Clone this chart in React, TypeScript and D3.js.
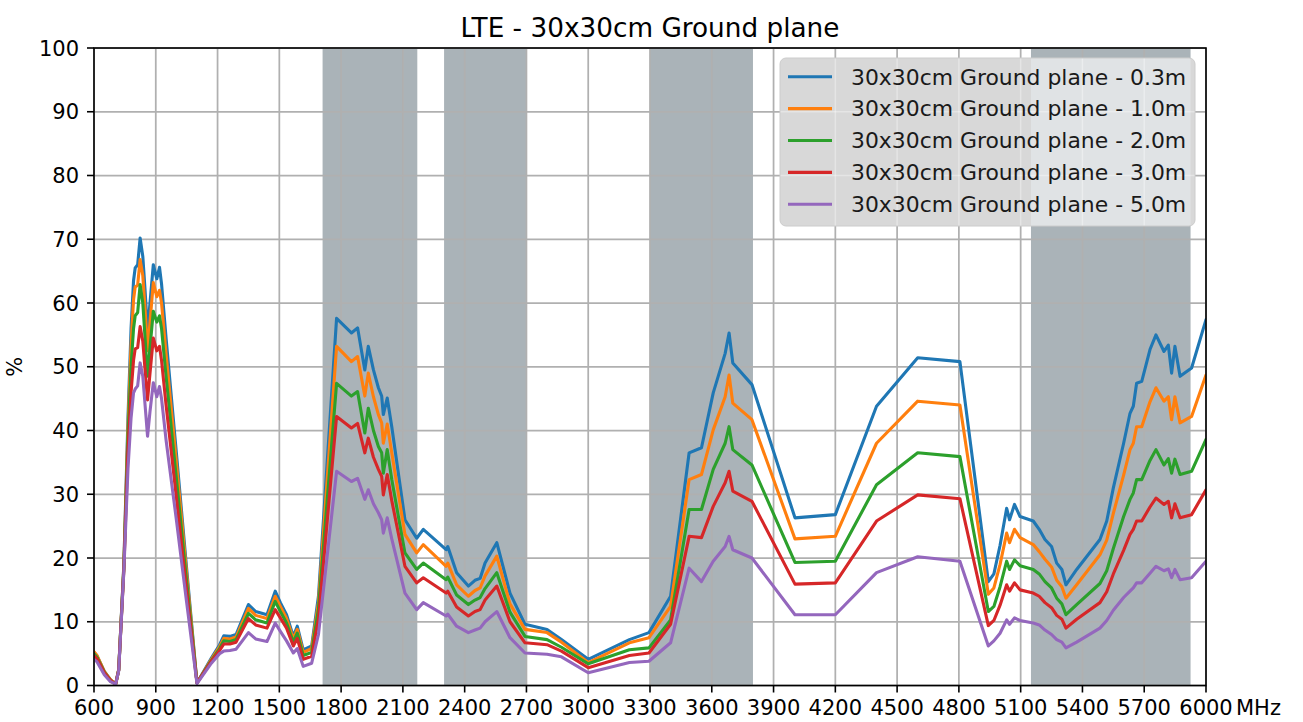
import React from 'react';
import * as d3 from 'd3';

// Frequencies (MHz) shared by all series
const freqs = [
  600, 615, 650, 680, 705, 720, 745, 765, 780, 792, 800, 812, 824, 837, 848, 860, 872, 888, 905, 918, 928, 950, 1000, 1050, 1100,
  1170, 1210, 1230, 1260, 1290, 1350, 1385, 1440, 1480, 1505, 1535, 1568, 1587, 1616, 1657, 1690,
  1778, 1850, 1880, 1915, 1932, 1957, 1981, 1997, 2005, 2024, 2046, 2110, 2167, 2199, 2310, 2318, 2361, 2418, 2450, 2475, 2499, 2556, 2620, 2693,
  2800, 2870, 3000, 3200, 3295, 3400, 3490, 3550, 3607, 3665, 3684, 3702, 3795, 4004,
  4200, 4400, 4600, 4805, 4943, 4970, 5000, 5032, 5046, 5070, 5097, 5161, 5190, 5218, 5250, 5275, 5300, 5320, 5372, 5485, 5518, 5550, 5600, 5631, 5647, 5663, 5688, 5728, 5757, 5796, 5817, 5833, 5849, 5874, 5930, 6000,
];

const gp03 = [
  5.2, 4.6, 2.2, 0.9, 0.2, 2.5, 19, 42, 56, 63.5, 65.5, 66, 70.2, 67.3, 62, 55.5, 60, 66, 63.8, 65.6, 63, 54.5, 36.5, 18.3, 0.4,
  4.3, 6.4, 7.8, 7.7, 8.0, 12.7, 11.6, 11.1, 14.8, 13.0, 11.1, 7.7, 9.3, 5.6, 6.2, 14,
  57.6, 55.3, 56.1, 49.5, 53.2, 49.5, 46.7, 45.4, 42.5, 45.1, 40.6, 26.0, 23.1, 24.5, 21.3, 21.8, 17.7, 15.6, 16.5, 16.8, 19.2, 22.4, 14.5, 9.6,
  8.8, 7.2, 4.1, 7.2, 8.3, 14.0, 36.5, 37.3, 45.9, 52.1, 55.3, 50.6, 47.2, 26.3,
  26.8, 43.8, 51.4, 50.8, 16.3, 17.5, 22.0, 27.8, 26.0, 28.4, 26.5, 25.8, 24.5, 22.9, 21.8, 19.2, 18.2, 15.8, 18.2, 22.9, 25.8, 31.0, 38.0, 42.7, 43.8, 47.4, 47.7, 52.7, 55.0, 52.4, 53.4, 49.0, 53.2, 48.5, 49.8, 57.4,
];

const gp10 = [
  5.3, 4.7, 2.2, 0.9, 0.2, 2.5, 18.8, 40.5, 53.5, 60.5, 62.5, 62.8, 66.8, 64.3, 59, 52.5, 57, 63.2, 61, 62, 60, 52, 35, 17.5, 0.4,
  4.1, 6.1, 7.4, 7.3, 7.6, 12.1, 11.0, 10.5, 14.0, 12.4, 10.5, 7.3, 8.8, 5.2, 5.8, 13,
  53.2, 50.8, 51.6, 45.4, 49.0, 45.3, 42.5, 41.2, 38.0, 41.0, 36.5, 23.7, 20.8, 22.1, 18.7, 19.2, 15.8, 14.0, 14.9, 15.3, 17.2, 20.3, 12.8, 8.8,
  8.3, 6.8, 3.6, 6.7, 7.5, 12.4, 32.3, 33.1, 40.1, 45.3, 48.7, 44.3, 41.7, 23.0,
  23.4, 38.0, 44.6, 44.0, 14.3, 15.3, 19.0, 23.9, 22.4, 24.5, 23.2, 22.1, 21.0, 19.8, 18.6, 16.5, 15.5, 13.7, 15.8, 20.5, 22.8, 27.0, 33.0, 37.0, 38.0, 40.6, 40.6, 44.5, 46.7, 44.6, 45.3, 41.7, 45.3, 41.2, 42.2, 48.7,
];

const gp20 = [
  5.0, 4.4, 2.1, 0.8, 0.2, 2.4, 18.5, 39, 50, 56, 58, 58.5, 62.9, 60, 54.5, 48.5, 53, 58.7, 57, 58, 56, 48.5, 32.5, 16.3, 0.4,
  3.9, 5.8, 7.0, 6.9, 7.2, 11.3, 10.3, 9.8, 13.2, 11.6, 9.8, 6.8, 8.2, 4.7, 5.2, 12,
  47.4, 45.4, 46.1, 39.6, 43.5, 40.0, 37.5, 36.5, 33.3, 37.0, 32.3, 20.8, 18.2, 19.2, 16.6, 17.0, 14.2, 12.7, 13.4, 13.8, 15.2, 17.7, 11.5, 7.7,
  7.2, 6.0, 3.4, 5.6, 5.9, 10.3, 27.6, 27.6, 33.9, 38.0, 40.6, 37.0, 34.6, 19.3,
  19.5, 31.5, 36.5, 35.9, 11.6, 12.4, 15.5, 19.5, 18.2, 19.7, 18.8, 18.2, 17.5, 16.3, 15.3, 13.7, 12.8, 11.1, 12.7, 16.0, 18.0, 21.5, 26.5, 29.2, 30.2, 32.3, 32.3, 35.3, 37.0, 34.6, 35.6, 33.3, 35.5, 33.1, 33.6, 38.6,
];

const gp30 = [
  4.7, 4.2, 2.0, 0.8, 0.2, 2.4, 18.2, 37, 46, 51, 52.8, 53, 56.3, 54, 49.5, 44.8, 49, 54.5, 52.5, 53.2, 51, 44, 29.5, 14.8, 0.4,
  3.8, 5.5, 6.5, 6.5, 6.8, 10.5, 9.5, 9.0, 11.9, 10.6, 9.0, 6.2, 7.4, 4.1, 4.6, 10.5,
  42.2, 40.4, 41.1, 36.5, 38.8, 35.8, 33.9, 32.8, 29.9, 33.1, 29.0, 18.7, 16.1, 16.9, 14.5, 14.8, 12.3, 10.9, 11.6, 11.9, 13.4, 15.6, 10.0, 6.7,
  6.4, 5.4, 2.8, 4.7, 5.1, 9.6, 23.4, 23.2, 28.1, 31.8, 33.6, 30.5, 28.9, 15.9,
  16.1, 25.8, 29.9, 29.3, 9.4, 10.2, 12.6, 15.8, 14.8, 16.1, 15.0, 14.5, 14.0, 13.0, 12.2, 11.0, 10.4, 9.0, 10.4, 13.0, 14.7, 17.5, 21.2, 23.7, 24.5, 25.8, 25.8, 28.0, 29.4, 28.4, 28.9, 26.3, 28.5, 26.3, 26.8, 30.7,
];

const gp50 = [
  4.1, 3.7, 1.7, 0.6, 0.2, 2.3, 18, 34, 42, 45.9, 46.5, 47, 50.6, 48.5, 44, 39.1, 43, 47.5, 45.3, 46.9, 45, 38.5, 26, 13, 0.3,
  3.5, 5.0, 5.4, 5.5, 5.7, 8.3, 7.3, 6.9, 9.8, 8.5, 7.0, 5.1, 5.8, 3.0, 3.5, 8,
  33.6, 32.0, 32.5, 29.2, 30.7, 28.5, 27.1, 26.0, 23.9, 26.3, 23.0, 14.5, 11.9, 13.0, 10.9, 11.2, 9.3, 8.3, 8.7, 9.0, 10.0, 11.6, 7.5, 5.1,
  4.9, 4.5, 2.0, 3.6, 3.8, 6.7, 18.4, 16.3, 19.5, 21.8, 23.4, 21.3, 20.0, 11.1,
  11.1, 17.7, 20.2, 19.5, 6.2, 7.0, 8.2, 10.3, 9.6, 10.6, 10.2, 9.8, 9.5, 8.7, 8.0, 7.2, 6.8, 5.9, 6.8, 9.0, 10.2, 11.8, 13.8, 14.8, 15.3, 16.1, 16.1, 17.6, 18.7, 18.0, 18.3, 16.9, 18.2, 16.6, 16.9, 19.5,
];

const seriesNames = [
  '30x30cm Ground plane - 0.3m',
  '30x30cm Ground plane - 1.0m',
  '30x30cm Ground plane - 2.0m',
  '30x30cm Ground plane - 3.0m',
  '30x30cm Ground plane - 5.0m',
];
const seriesValues = [gp03, gp10, gp20, gp30, gp50];
const seriesColors = ['#1f77b4', '#ff7f0e', '#2ca02c', '#d62728', '#9467bd'];

// LTE bands shaded (MHz)
const bandStarts = [1710, 2300, 3300, 5150];
const bandEnds = [2170, 2700, 3800, 5925];

const xTicks = d3.range(600, 6001, 300);
const yTicks = d3.range(0, 101, 10);

const titleText = 'LTE - 30x30cm Ground plane';
const xUnit = 'MHz';
const yLabel = '%';

const FONT = '"DejaVu Sans", sans-serif';

export default function App() {
  const W = 1303;
  const H = 722;
  const left = 94;
  const right = 1206;
  const top = 48;
  const bottom = 685.5;

  const x = d3.scaleLinear().domain([600, 6000]).range([left, right]);
  const y = d3.scaleLinear().domain([0, 100]).range([bottom, top]);

  const lineGen = (vals: number[]) =>
    d3
      .line<number>()
      .x((_, i) => x(freqs[i]))
      .y((d) => y(d))(vals) || '';

  // legend geometry
  const lgX = 780;
  const lgY = 58;
  const lgW = 415;
  const lgH = 168;
  const rowY0 = 76.7;
  const rowStep = 31.9;

  return (
    <svg
      width={W}
      height={H}
      style={{ position: 'absolute', left: 0, top: 0, background: '#fff' }}
      fontFamily={FONT}
    >
      <defs>
        <clipPath id="plotClip">
          <rect x={left} y={top} width={right - left} height={bottom - top} />
        </clipPath>
        <clipPath id="legClip">
          <rect x={lgX} y={lgY} width={lgW} height={lgH} rx={6} />
        </clipPath>
      </defs>
      <rect x={0} y={0} width={W} height={H} fill="#fff" />

      {/* bands */}
      {bandStarts.map((b, i) => (
        <rect
          key={'band' + i}
          x={x(b)}
          y={top}
          width={x(bandEnds[i]) - x(b)}
          height={bottom - top}
          fill="#aab3b8"
        />
      ))}

      {/* grid */}
      <g stroke="#b0b0b0" strokeWidth={1.75}>
        {xTicks.map((t) => (
          <line key={'gx' + t} x1={x(t)} x2={x(t)} y1={top} y2={bottom} />
        ))}
        {yTicks.map((t) => (
          <line key={'gy' + t} x1={left} x2={right} y1={y(t)} y2={y(t)} />
        ))}
      </g>

      {/* series */}
      <g clipPath="url(#plotClip)">
        {seriesValues.map((vals, i) => (
          <path
            key={'s' + i}
            d={lineGen(vals)}
            fill="none"
            stroke={seriesColors[i]}
            strokeWidth={3.1}
            strokeLinejoin="round"
            strokeLinecap="round"
          />
        ))}
      </g>

      {/* axes frame */}
      <rect
        x={left}
        y={top}
        width={right - left}
        height={bottom - top}
        fill="none"
        stroke="#000"
        strokeWidth={1.6}
      />

      {/* ticks */}
      <g stroke="#000" strokeWidth={1.6}>
        {xTicks.map((t) => (
          <line key={'tx' + t} x1={x(t)} x2={x(t)} y1={bottom} y2={bottom + 7} />
        ))}
        {yTicks.map((t) => (
          <line key={'ty' + t} x1={left - 7} x2={left} y1={y(t)} y2={y(t)} />
        ))}
      </g>
      <g fontSize={21} fill="#000">
        {xTicks.map((t) => (
          <text key={'lx' + t} x={x(t)} y={715} textAnchor="middle">
            {t}
          </text>
        ))}
        {yTicks.map((t) => (
          <text key={'ly' + t} x={79} y={y(t)} dy="0.36em" textAnchor="end">
            {t}
          </text>
        ))}
        <text x={1236} y={715} textAnchor="start">
          {xUnit}
        </text>
        <text transform={`translate(22,${(top + bottom) / 2}) rotate(-90)`} textAnchor="middle">
          {yLabel}
        </text>
      </g>

      {/* title */}
      <text x={(left + right) / 2} y={37} textAnchor="middle" fontSize={26.3} fill="#000">
        {titleText}
      </text>

      {/* legend */}
      <g>
        <rect x={lgX} y={lgY} width={lgW} height={lgH} rx={6} fill="#d8d8d8" />
        <g clipPath="url(#legClip)">
          {bandStarts.map((b, i) => (
            <rect
              key={'lb' + i}
              x={x(b)}
              y={lgY}
              width={x(bandEnds[i]) - x(b)}
              height={lgH}
              fill="#e0e3e5"
            />
          ))}
          <g stroke="#ffffff" strokeOpacity={0.35} strokeWidth={1.5}>
            {xTicks.map((t) => (
              <line key={'lgx' + t} x1={x(t)} x2={x(t)} y1={lgY} y2={lgY + lgH} />
            ))}
            {yTicks.map((t) => (
              <line key={'lgy' + t} x1={lgX} x2={lgX + lgW} y1={y(t)} y2={y(t)} />
            ))}
          </g>
        </g>
        <rect x={lgX} y={lgY} width={lgW} height={lgH} rx={6} fill="none" stroke="#cccccc" strokeWidth={1} />
        {seriesNames.map((name, i) => (
          <g key={'lg' + i}>
            <line
              x1={788}
              x2={832}
              y1={rowY0 + i * rowStep}
              y2={rowY0 + i * rowStep}
              stroke={seriesColors[i]}
              strokeWidth={3.1}
            />
            <text x={851} y={rowY0 + i * rowStep} dy="0.36em" fontSize={21.9} fill="#1a1a1a">
              {name}
            </text>
          </g>
        ))}
      </g>
    </svg>
  );
}
